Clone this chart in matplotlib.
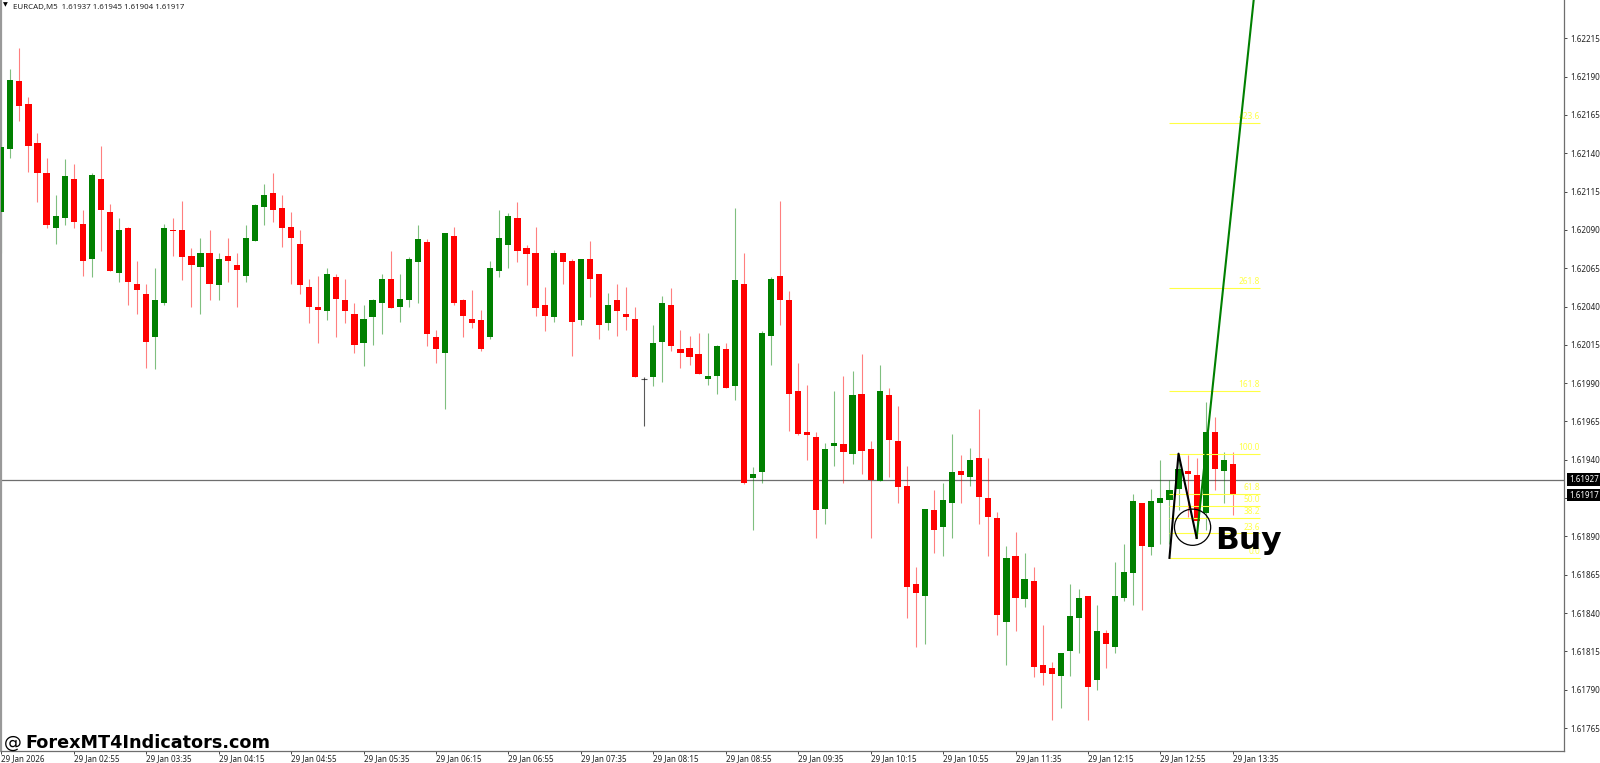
import numpy as np
import matplotlib
matplotlib.use("Agg")
import matplotlib.pyplot as plt

# ── EURCAD M5 bars ─────────────────────────────────────────────────────────────
opens = [
    1.62102, 1.62143, 1.62187, 1.62172, 1.62147, 1.62127, 1.62091, 1.62098, 1.62123, 1.62094,
    1.62071, 1.62123, 1.62102, 1.62062, 1.62091, 1.62055, 1.62048, 1.62020, 1.62042, 1.62090,
    1.62090, 1.62073, 1.62066, 1.62075, 1.62054, 1.62073, 1.62067, 1.62060, 1.62083, 1.62105,
    1.62114, 1.62104, 1.62092, 1.62081, 1.62053, 1.62040, 1.62037, 1.62059, 1.62044, 1.62035,
    1.62016, 1.62033, 1.62042, 1.62058, 1.62040, 1.62044, 1.62069, 1.62082, 1.62020, 1.62010,
    1.62086, 1.62044, 1.62032, 1.62031, 1.62020, 1.62063, 1.62080, 1.62098, 1.62078, 1.62075,
    1.62041, 1.62033, 1.62075, 1.62070, 1.62031, 1.62071, 1.62061, 1.62029, 1.62044, 1.62035,
    1.62032, 1.61993, 1.61994, 1.62017, 1.62041, 1.62012, 1.62013, 1.62009, 1.61993, 1.61995,
    1.62012, 1.61988, 1.62055, 1.61928, 1.61932, 1.62021, 1.62060, 1.62044, 1.61985, 1.61958,
    1.61955, 1.61908, 1.61949, 1.61950, 1.61944, 1.61983, 1.61947, 1.61926, 1.61982, 1.61952,
    1.61923, 1.61859, 1.61851, 1.61907, 1.61896, 1.61912, 1.61933, 1.61929, 1.61941, 1.61915,
    1.61902, 1.61834, 1.61877, 1.61849, 1.61861, 1.61806, 1.61804, 1.61799, 1.61815, 1.61837,
    1.61851, 1.61796, 1.61827, 1.61818, 1.61850, 1.61866, 1.61912, 1.61883, 1.61912, 1.61914,
    1.61921, 1.61933, 1.61930, 1.61905, 1.61958, 1.61933, 1.61937,
]
highs = [
    1.62155, 1.62195, 1.62209, 1.62177, 1.62153, 1.62137, 1.62113, 1.62136, 1.62133, 1.62103,
    1.62127, 1.62145, 1.62107, 1.62098, 1.62092, 1.62070, 1.62055, 1.62065, 1.62094, 1.62098,
    1.62109, 1.62078, 1.62085, 1.62090, 1.62075, 1.62085, 1.62075, 1.62093, 1.62107, 1.62120,
    1.62127, 1.62113, 1.62102, 1.62090, 1.62058, 1.62060, 1.62065, 1.62061, 1.62058, 1.62042,
    1.62041, 1.62045, 1.62061, 1.62076, 1.62061, 1.62072, 1.62093, 1.62084, 1.62025, 1.62088,
    1.62092, 1.62045, 1.62051, 1.62038, 1.62070, 1.62103, 1.62101, 1.62108, 1.62080, 1.62092,
    1.62053, 1.62077, 1.62075, 1.62071, 1.62071, 1.62083, 1.62061, 1.62049, 1.62055, 1.62053,
    1.62040, 1.61994, 1.62028, 1.62047, 1.62052, 1.62025, 1.62021, 1.62023, 1.62023, 1.62015,
    1.62016, 1.62104, 1.62075, 1.61935, 1.62024, 1.62059, 1.62109, 1.62050, 1.62003, 1.61989,
    1.61958, 1.61951, 1.61985, 1.61995, 1.61998, 1.62009, 1.61952, 1.62002, 1.61987, 1.61975,
    1.61936, 1.61870, 1.61908, 1.61920, 1.61925, 1.61957, 1.61943, 1.61948, 1.61973, 1.61941,
    1.61906, 1.61884, 1.61893, 1.61879, 1.61870, 1.61832, 1.61808, 1.61814, 1.61859, 1.61856,
    1.61851, 1.61845, 1.61829, 1.61873, 1.61885, 1.61918, 1.61912, 1.61921, 1.61940, 1.61927,
    1.61944, 1.61943, 1.61941, 1.61978, 1.61968, 1.61945, 1.61945,
]
lows = [
    1.62075, 1.62137, 1.62161, 1.62128, 1.62108, 1.62091, 1.62081, 1.62093, 1.62091, 1.62060,
    1.62059, 1.62076, 1.62063, 1.62056, 1.62041, 1.62035, 1.62000, 1.61999, 1.62041, 1.62073,
    1.62057, 1.62040, 1.62035, 1.62044, 1.62044, 1.62056, 1.62040, 1.62056, 1.62083, 1.62093,
    1.62095, 1.62079, 1.62055, 1.62048, 1.62029, 1.62016, 1.62031, 1.62020, 1.62029, 1.62010,
    1.62001, 1.62015, 1.62022, 1.62039, 1.62030, 1.62040, 1.62042, 1.62014, 1.62003, 1.61973,
    1.62041, 1.62020, 1.62026, 1.62011, 1.62019, 1.62059, 1.62065, 1.62069, 1.62054, 1.62034,
    1.62024, 1.62030, 1.62055, 1.62008, 1.62028, 1.62046, 1.62019, 1.62025, 1.62021, 1.62025,
    1.61994, 1.61962, 1.61988, 1.61991, 1.62011, 1.62000, 1.62002, 1.61996, 1.61989, 1.61983,
    1.61987, 1.61979, 1.61924, 1.61894, 1.61925, 1.62002, 1.62028, 1.61959, 1.61956, 1.61940,
    1.61889, 1.61898, 1.61936, 1.61925, 1.61937, 1.61931, 1.61889, 1.61926, 1.61929, 1.61912,
    1.61837, 1.61818, 1.61820, 1.61879, 1.61877, 1.61889, 1.61912, 1.61923, 1.61898, 1.61877,
    1.61826, 1.61806, 1.61828, 1.61844, 1.61798, 1.61793, 1.61770, 1.61778, 1.61799, 1.61814,
    1.61770, 1.61790, 1.61804, 1.61814, 1.61848, 1.61845, 1.61842, 1.61878, 1.61885, 1.61885,
    1.61907, 1.61903, 1.61889, 1.61894, 1.61920, 1.61912, 1.61904,
]
closes = [
    1.62144, 1.62188, 1.62171, 1.62145, 1.62127, 1.62093, 1.62099, 1.62125, 1.62095, 1.62070,
    1.62126, 1.62103, 1.62063, 1.62090, 1.62056, 1.62051, 1.62017, 1.62044, 1.62091, 1.62089,
    1.62072, 1.62067, 1.62075, 1.62055, 1.62071, 1.62070, 1.62064, 1.62085, 1.62106, 1.62113,
    1.62103, 1.62091, 1.62085, 1.62054, 1.62040, 1.62038, 1.62061, 1.62045, 1.62037, 1.62015,
    1.62032, 1.62044, 1.62058, 1.62039, 1.62045, 1.62071, 1.62084, 1.62022, 1.62012, 1.62088,
    1.62042, 1.62034, 1.62029, 1.62012, 1.62065, 1.62085, 1.62099, 1.62076, 1.62074, 1.62039,
    1.62034, 1.62075, 1.62069, 1.62030, 1.62071, 1.62058, 1.62028, 1.62041, 1.62037, 1.62033,
    1.61994, 1.61993, 1.62016, 1.62042, 1.62014, 1.62010, 1.62007, 1.61996, 1.61995, 1.62014,
    1.61987, 1.62057, 1.61925, 1.61931, 1.62023, 1.62058, 1.62044, 1.61983, 1.61957, 1.61956,
    1.61907, 1.61947, 1.61951, 1.61945, 1.61982, 1.61946, 1.61927, 1.61985, 1.61953, 1.61922,
    1.61857, 1.61853, 1.61908, 1.61894, 1.61914, 1.61932, 1.61930, 1.61940, 1.61916, 1.61903,
    1.61839, 1.61876, 1.61850, 1.61862, 1.61805, 1.61801, 1.61800, 1.61814, 1.61838, 1.61850,
    1.61792, 1.61828, 1.61820, 1.61851, 1.61867, 1.61913, 1.61884, 1.61913, 1.61915, 1.61920,
    1.61934, 1.61931, 1.61900, 1.61958, 1.61934, 1.61940, 1.61917,
]

price_ticks = [1.62215, 1.62190, 1.62165, 1.62140, 1.62115, 1.62090, 1.62065, 1.62040, 1.62015,
               1.61990, 1.61965, 1.61940, 1.61915, 1.61890, 1.61865, 1.61840, 1.61815, 1.61790,
               1.61765]
time_ticks = ["29 Jan 2026", "29 Jan 02:55", "29 Jan 03:35", "29 Jan 04:15", "29 Jan 04:55",
              "29 Jan 05:35", "29 Jan 06:15", "29 Jan 06:55", "29 Jan 07:35", "29 Jan 08:15",
              "29 Jan 08:55", "29 Jan 09:35", "29 Jan 10:15", "29 Jan 10:55", "29 Jan 11:35",
              "29 Jan 12:15", "29 Jan 12:55", "29 Jan 13:35"]

# fibo levels and the swing drawn on top of the bars
fib_labels = ["0.0", "23.6", "38.2", "50.0", "61.8", "100.0", "161.8", "261.8", "423.6"]
fib_prices = [1.61876, 1.61892, 1.61902, 1.61910, 1.61918, 1.61944, 1.61985, 1.62052, 1.62160]
swing_bars = [129, 130, 132]
swing_prices = [1.61876, 1.61944, 1.61889]
target_bars = [132, 138.3]
target_prices = [1.61889, 1.62240]
last_price = 1.61917
line_price = 1.61927

UI_FONT = ["Noto Sans", "DejaVu Sans"]
UI_SIZE = 5.8
GREEN = "#008000"
RED = "#ff0000"
AXIS = "#6e6e6e"
W, H = 1600, 763

# ── figure ─────────────────────────────────────────────────────────────────────
fig = plt.figure(figsize=(W / 100, H / 100), dpi=100, facecolor="white")
ax = fig.add_axes([1 / W, 1 - 751 / H, 1563.3 / W, 751 / H])
ax.set_xlim(-0.03, 172.6)
ax.set_ylim(1.61750, 1.62240)

x = np.arange(len(opens))
o, h, l, c = map(np.array, (opens, highs, lows, closes))
up = c > o
down = c < o
doji = c == o

ax.axhline(line_price, color=AXIS, lw=0.9, zorder=1)

ax.vlines(x[up], l[up], h[up], color=GREEN, lw=0.8, alpha=0.5, zorder=2)
ax.vlines(x[down], l[down], h[down], color=RED, lw=0.8, alpha=0.5, zorder=2)
ax.vlines(x[doji], l[doji], h[doji], color="black", lw=0.8, alpha=0.65, zorder=2)
ax.hlines(c[doji], x[doji] - 0.36, x[doji] + 0.36, color="black", lw=0.8, alpha=0.65, zorder=2)

ax.bar(x[up], (c - o)[up], bottom=o[up], width=0.68, color=GREEN, lw=0, zorder=3)
ax.bar(x[down], (o - c)[down], bottom=c[down], width=0.68, color=RED, lw=0, zorder=3)

ax.hlines(fib_prices, 129, 139, color="#ffff44", lw=0.8, zorder=4)
for lab, p in zip(fib_labels, fib_prices):
    ax.annotate(lab, (139, p), xytext=(0, 1.2), textcoords="offset points", ha="right", va="bottom",
                color="#ffff44", fontsize=6, family=UI_FONT, zorder=4)

ax.plot(target_bars, target_prices, color=GREEN, lw=1.5, zorder=5)
ax.plot(swing_bars, swing_prices, color="black", lw=1.5, zorder=6)
ax.scatter([131.55], [1.61896], s=680, facecolor="none", edgecolor="black", lw=0.9, zorder=6)
ax.text(134.0, 1.61882, "Buy", fontsize=22.5, fontweight="bold", color="black", va="baseline",
        family="DejaVu Sans", zorder=7)

# ── axes ───────────────────────────────────────────────────────────────────────
ax.spines["top"].set_visible(False)
ax.spines["left"].set_color("#999999")
ax.spines["left"].set_linewidth(1.6)
ax.spines["right"].set_color(AXIS)
ax.spines["bottom"].set_color(AXIS)
ax.spines["right"].set_linewidth(0.9)
ax.spines["bottom"].set_linewidth(0.9)

# the 1.61915 label sits under the last-price box, so only its tick shows
ax.yaxis.tick_right()
ax.set_yticks(price_ticks)
ax.set_yticklabels(["" if p == 1.61915 else f"{p:.5f}" for p in price_ticks],
                   fontsize=UI_SIZE, family=UI_FONT, color="#222222")
ax.tick_params(axis="y", length=2, width=0.7, pad=2, color="#444444")
ax.set_xticks(np.arange(0, len(opens), 8))
ax.set_xticklabels(time_ticks, fontsize=UI_SIZE, family=UI_FONT, color="#222222", ha="left")
ax.tick_params(axis="x", length=2, width=0.7, pad=0.5, color="#444444")

box = dict(boxstyle="square,pad=0.22", fc="black", ec="black", lw=0)
for p in (line_price, last_price):
    ax.annotate(f"{p:.5f}", (1, p), xycoords=("axes fraction", "data"), xytext=(3.4, 0),
                textcoords="offset points", va="center", ha="left", fontsize=UI_SIZE,
                family=UI_FONT, color="white", bbox=box, annotation_clip=False, zorder=8)

# header and watermark
fig.text(3 / W, 1 - 6.2 / H, "\u25bc", fontsize=4.5, color="black", va="baseline", family="DejaVu Sans")
fig.text(13 / W, 1 - 8.5 / H, "EURCAD,M5  1.61937 1.61945 1.61904 1.61917", fontsize=5.7,
         family=UI_FONT, color="#222222", va="baseline")
fig.text(4 / W, 1 - 748 / H, "@", fontsize=13, color="black", va="baseline", family="DejaVu Sans")
fig.text(25 / W, 1 - 748 / H, "ForexMT4Indicators.com", fontsize=12.7, fontweight="bold",
         color="black", va="baseline", family="DejaVu Sans")

fig.savefig("out.png", dpi=100)
